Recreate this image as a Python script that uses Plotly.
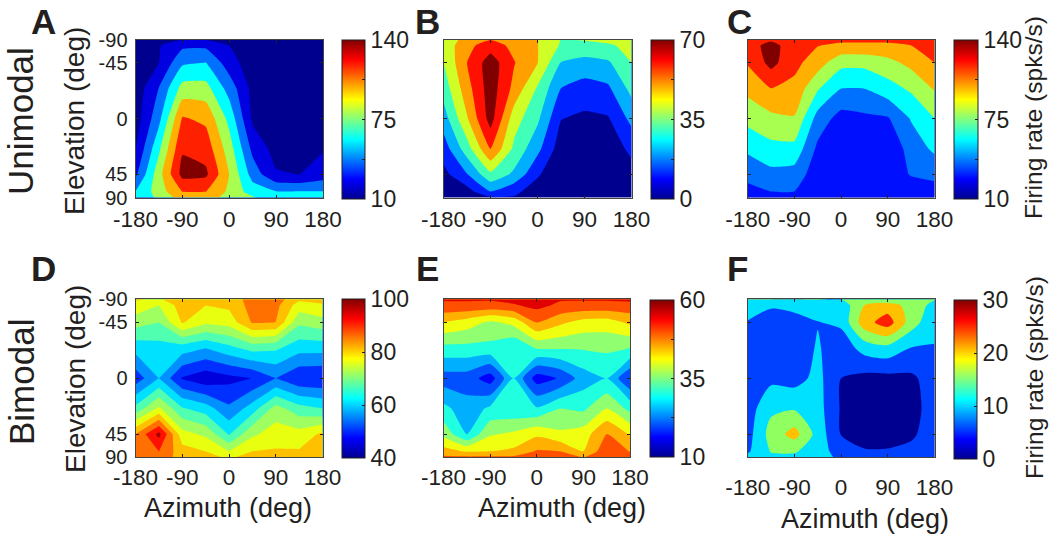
import numpy as np
import plotly.graph_objects as go

azimuth = [-180, -135, -90, -45, 0, 45, 90, 135, 180]
elevation = [-90, -67.5, -45, -22.5, 0, 22.5, 45, 67.5, 90]
az_ticks = [-180, -90, 0, 90, 180]
el_ticks = [-90, -45, 0, 45, 90]

rate_a = [
    [12, 18, 25, 25, 20, 13, 12, 12, 12],
    [13, 25, 39, 39, 26, 15, 12, 12, 12],
    [15, 26, 56, 59, 34, 16, 12, 12, 12],
    [16, 43, 81, 81, 52, 21, 12, 12, 12],
    [18, 54, 109, 104, 70, 23, 12, 12, 12],
    [26, 72, 122, 117, 83, 38, 20, 12, 25],
    [39, 85, 129, 127, 91, 52, 28, 26, 34],
    [59, 83, 108, 108, 88, 67, 59, 59, 59],
    [64, 78, 99, 99, 85, 77, 64, 62, 62],
]
rate_b = [
    [38, 47, 52, 47, 44, 35, 35.5, 37, 38.5],
    [38, 50, 57, 50, 44, 34, 33, 34, 37],
    [35, 52.5, 66, 53, 44, 26, 23, 25, 35],
    [30, 49, 66, 50, 34, 17.5, 14, 16, 29],
    [22, 43, 65, 39, 28, 9, 7, 8, 20],
    [13, 31, 53, 33, 20, 4, 2, 3, 11],
    [6, 17, 33, 24.5, 10, 1, 1, 1, 5],
    [3.5, 5, 17.5, 11, 4, 1, 1, 1, 2.5],
    [2, 3.5, 8, 8, 2.5, 1, 1, 1, 2],
]
rate_c = [
    [117, 120.5, 116, 112, 111, 111, 111, 111, 114],
    [116, 130, 114, 108, 104, 104, 104, 107.5, 112],
    [109, 129, 112, 99, 80, 80, 86, 96, 107.5],
    [96, 107.5, 103, 77, 59, 59, 68.5, 78, 93],
    [80, 87, 90, 52, 36, 39, 41, 60, 75],
    [62, 70, 70, 39, 30, 30, 30, 49, 62],
    [47, 54, 52, 33, 30, 30, 30, 44, 47],
    [38, 42.5, 42.5, 30, 30, 30, 30, 31, 36],
    [34, 38, 38, 30, 30, 30, 30, 30, 33],
]
rate_d = [
    [78.7, 77.6, 81.5, 79.3, 79.8, 86.4, 86.4, 79.3, 79.8],
    [76.5, 72.7, 80.9, 78.2, 79.3, 85.8, 85.3, 75.5, 77.6],
    [69.5, 67.3, 78.7, 73.8, 74.9, 84.2, 83.6, 68.4, 70.5],
    [58.5, 59.6, 59.1, 56.4, 60.2, 64, 62.9, 58.5, 58.5],
    [47.6, 56.4, 44.9, 41.6, 43.8, 45.5, 50.9, 46, 45.5],
    [63.5, 73.8, 62.4, 59.1, 52, 59.1, 69.5, 64, 61.8],
    [83.6, 96.2, 74.9, 71.6, 61.3, 71.6, 75.5, 74.9, 79.3],
    [86.9, 89.1, 80.4, 78.2, 72.7, 78.2, 78.7, 78.7, 82.5],
    [85.3, 85.3, 82.5, 80.4, 77.1, 80.9, 80.9, 80.9, 83.1],
]
rate_e = [
    [55.5, 55.5, 55.5, 56.5, 58.5, 55.5, 55.5, 55.5, 56],
    [54, 54, 53.5, 54.5, 56.5, 54, 53.5, 53.5, 53.5],
    [44.8, 42.5, 39, 41.5, 50, 46, 43, 42.5, 46],
    [33.5, 33.5, 33.5, 30.5, 35.5, 35.5, 35.5, 36, 35],
    [22.5, 22.5, 17.5, 30, 17.5, 20.5, 27.5, 30, 20],
    [31.5, 27, 31, 31, 30.5, 35, 34, 40, 33.5],
    [38.5, 29.9, 39.5, 41, 44, 41, 42.5, 50.2, 44.5],
    [47, 44.5, 45, 46, 50.5, 50, 45, 53.5, 49.8],
    [51, 51, 51, 51, 52, 52, 50, 52.5, 51.5],
]
rate_f = [
    [15.5, 15.5, 15.3, 15.3, 15.1, 16, 15.2, 15.5, 15.3],
    [11.5, 10.5, 11.5, 13, 12, 20, 22.5, 18, 13.5],
    [9.8, 8, 8, 9.8, 11, 23, 27.5, 17.5, 11],
    [7.5, 7, 7, 10.5, 7, 12, 13.3, 9.8, 9.8],
    [7.5, 8.8, 8, 11.5, 5, 3.5, 3.5, 4, 7.5],
    [7.5, 14, 14.5, 12, 4.5, 3, 3, 3, 7.5],
    [8, 17, 22, 13, 4.8, 3.5, 3.5, 4, 8],
    [9.3, 15.3, 15.5, 12.5, 7.5, 5.3, 5.3, 6.5, 9],
    [11.5, 14, 14, 12, 9, 9, 9, 9, 10],
]

W, H = 1050, 541
INK = "#231f20"
FONT = "Liberation Sans"
JET = [[0, "#00008f"], [0.125, "#0000ff"], [0.375, "#00ffff"], [0.625, "#ffff00"],
       [0.875, "#ff0000"], [1, "#800000"]]

BLUE8 = ["#00008f", "#0000e0", "#0070ff", "#00ffff", "#a8ff50", "#ffb000", "#ff2000", "#800000"]
panels = [
    dict(z=rate_a, lo=10, hi=140, size=16.25, bands=BLUE8, smooth=0.4,
         rect=(135.5, 323, 39.5, 197.5), cb=(342, 365, 40, 199),
         cbticks=[10, 42.5, 75, 107.5, 140], cblabels=["10", "", "75", "", "140"], ylab=True, xpad=1),
    dict(z=rate_b, lo=0, hi=70, size=8.75, smooth=0.4,
         bands=["#00008f", "#0020ff", "#00b0ff", "#40ffb8", "#d0ff28", "#ffa000", "#ff1000", "#800000"],
         rect=(443.6, 631.5, 39.5, 197.5), cb=(651, 674, 40, 199),
         cbticks=[0, 17.5, 35, 52.5, 70], cblabels=["0", "", "35", "", "70"], ylab=False, xpad=1),
    dict(z=rate_c, lo=10, hi=140, size=16.25, smooth=0.4,
         bands=["#00008f", "#0010ff", "#0070ff", "#00ffff", "#a8ff50", "#ffb000", "#ff2000", "#800000"],
         rect=(747.7, 934.5, 39.5, 197.5), cb=(954, 977.5, 40, 199),
         cbticks=[10, 42.5, 75, 107.5, 140], cblabels=["10", "", "75", "", "140"], ylab=False, xpad=1),
    dict(z=rate_d, lo=40, hi=100, size=5.4545, smooth=0,
         bands=["#0000dd", "#0030ff", "#0090ff", "#00e0ff", "#50ffb0", "#a0ff60", "#e8ff10",
                "#ffc000", "#ff7000", "#ff1000", "#a00000"],
         rect=(135.5, 322.5, 299.3, 457.3), cb=(342, 365, 299, 458),
         cbticks=[40, 60, 80, 100], cblabels=["40", "60", "80", "100"], ylab=True, xpad=0),
    dict(z=rate_e, lo=10, hi=60, size=5, smooth=0.5,
         bands=["#000090", "#0000ff", "#0050ff", "#00b0ff", "#20ffe0", "#90ff70", "#f0ff10",
                "#ffb000", "#ff5000", "#e00000"],
         rect=(443.6, 630, 299.3, 457.3), cb=(650, 674, 300, 457),
         cbticks=[10, 22.5, 35, 47.5, 60], cblabels=["10", "", "35", "", "60"], ylab=False, xpad=0),
    dict(z=rate_f, lo=0, hi=30, size=5, smooth=0.7,
         bands=["#000090", "#0040ff", "#00e0ff", "#90ff60", "#ffc000", "#ff2000"],
         rect=(747.7, 934.5, 299.3, 457.3), cb=(954, 977, 300, 459),
         cbticks=[0, 10, 20, 30], cblabels=["0", "10", "20", "30"], ylab=False, xpad=10),
]

el_pos = np.sin(np.radians(elevation))
el_tick_pos = np.sin(np.radians(el_ticks))

fig = go.Figure()
layout = {}
for i, p in enumerate(panels, start=1):
    suffix = "" if i == 1 else str(i)
    n = len(p["bands"])
    scale = [[0, p["bands"][0]]]
    scale += [[(k + 1) / (n + 1), c] for k, c in enumerate(p["bands"])]
    scale += [[1, p["bands"][-1]]]
    fig.add_trace(go.Contour(
        x=azimuth, y=el_pos, z=p["z"], xaxis="x" + suffix, yaxis="y" + suffix,
        autocontour=False, colorscale=scale, showscale=False,
        contours=dict(start=p["lo"], end=p["hi"], size=p["size"], coloring="fill", showlines=False),
        line=dict(width=0, smoothing=p["smooth"]),
    ))
    l, r, t, b = p["cb"]
    fig.add_trace(go.Scatter(
        x=[None, None], y=[None, None], mode="markers", xaxis="x" + suffix, yaxis="y" + suffix,
        showlegend=False, hoverinfo="skip",
        marker=dict(color=[p["lo"], p["hi"]], cmin=p["lo"], cmax=p["hi"], colorscale=JET, showscale=True,
                    colorbar=dict(
                        x=l / W, xanchor="left", y=1 - t / H, yanchor="top",
                        lenmode="pixels", len=b - t, thicknessmode="pixels", thickness=r - l,
                        xpad=0, ypad=0, outlinecolor=INK, outlinewidth=1, borderwidth=0,
                        tickmode="array", tickvals=p["cbticks"], ticktext=p["cblabels"],
                        ticks="inside", ticklen=3, tickcolor=INK, tickwidth=1,
                        tickfont=dict(family=FONT, size=23, color=INK))),
    ))
    xl, xr, yt, yb = p["rect"]
    common = dict(showgrid=False, zeroline=False, ticks="inside", ticklen=3, tickcolor=INK,
                  tickwidth=1, showline=True, linecolor="#444444", linewidth=1, mirror="ticks")
    layout["xaxis" + suffix] = dict(
        domain=[xl / W, xr / W], range=[-180, 180], anchor="y" + suffix,
        tickmode="array", tickvals=az_ticks, ticktext=[str(v) for v in az_ticks],
        tickfont=dict(family=FONT, size=22.5, color=INK),
        ticklabelstandoff=p["xpad"], **common)
    layout["yaxis" + suffix] = dict(
        domain=[1 - yb / H, 1 - yt / H], range=[1, -1], anchor="x" + suffix,
        tickmode="array", tickvals=el_tick_pos, ticktext=[str(v) for v in el_ticks],
        tickfont=dict(family=FONT, size=20, color=INK),
        showticklabels=p["ylab"], ticklabelstandoff=3, **common)

def label(text, x, y, size, angle=0, bold=False):
    fig.add_annotation(
        text=f"<b>{text}</b>" if bold else text, x=x / W, y=1 - y / H, xref="paper", yref="paper",
        xanchor="center", yanchor="middle", showarrow=False, textangle=angle,
        font=dict(family=FONT, size=size, color=INK))

panel_letters = [("A", 43, 21), ("B", 427, 21), ("C", 739, 21), ("D", 43, 268), ("E", 427, 268), ("F", 737, 268)]
for t, x, y in panel_letters:
    label(t, x, y, 35, bold=True)
label("Unimodal", 21, 121, 35, angle=-90)
label("Bimodal", 21, 382, 35, angle=-90)
label("Elevation (deg)", 75, 121, 28, angle=-90)
label("Elevation (deg)", 75, 379, 28, angle=-90)
label("Azimuth (deg)", 228, 508, 27)
label("Azimuth (deg)", 562, 508, 27)
label("Azimuth (deg)", 865, 519, 27)
label("Firing rate (spks/s)", 1034, 118, 24.5, angle=-90)
label("Firing rate (spks/s)", 1034, 378, 24.5, angle=-90)

fig.update_layout(width=W, height=H, margin=dict(l=0, r=0, t=0, b=0, autoexpand=False), autosize=False,
                  paper_bgcolor="white", plot_bgcolor="white", showlegend=False, **layout)
fig.write_html("out.html", config=dict(displayModeBar=False),
               post_script="document.body.style.margin='0';document.body.style.overflow='hidden';")
